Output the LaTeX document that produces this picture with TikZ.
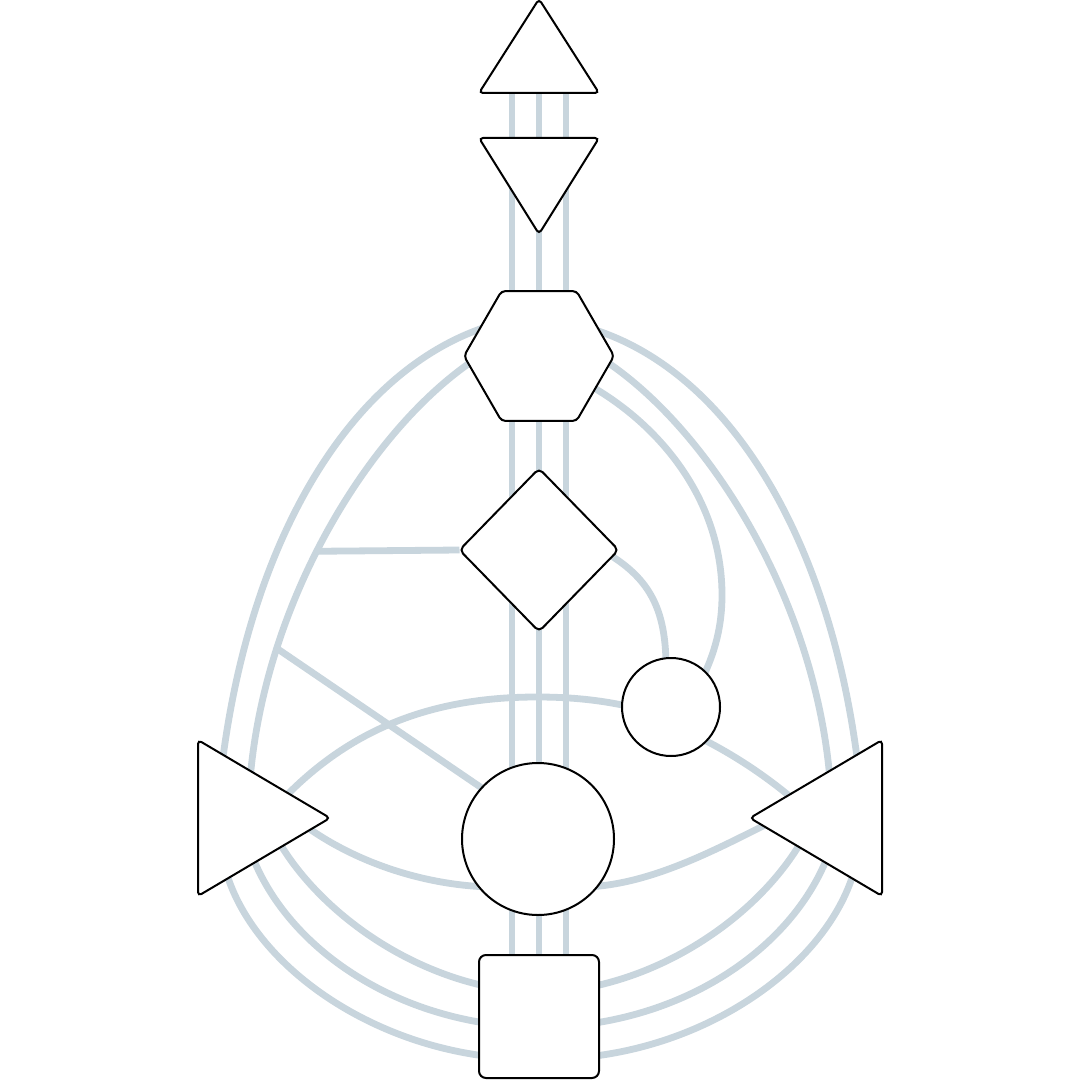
\documentclass[tikz,border=0pt]{standalone}
\usetikzlibrary{shapes.geometric,calc,backgrounds}
\definecolor{chan}{RGB}{200,213,221}
\begin{document}
\begin{tikzpicture}[x=0.5pt,y=-0.5pt,
    hub/.style={draw, fill=white, line width=1pt, inner sep=0pt, outer sep=0pt},
    tri/.style={hub, isosceles triangle, isosceles triangle stretches, rounded corners=2pt, anchor=lower side},
    channel/.style={draw=chan, line width=3.4pt}]
  \useasboundingbox (0,0) rectangle (1080,1080);
  \node[tri, shape border rotate=90, minimum width=60pt, minimum height=47pt] (head) at (539,93) {};
  \node[tri, shape border rotate=270, minimum width=60pt, minimum height=48pt] (ajna) at (539,138) {};
  \node[hub, regular polygon, regular polygon sides=6, minimum size=75pt, rounded corners=2pt] (throat) at (539,356) {};
  \node[hub, diamond, minimum width=79.5pt, minimum height=81.5pt, rounded corners=2.5pt] (g) at (539,550) {};
  \node[hub, circle, minimum size=49pt] (heart) at (671,707) {};
  \node[hub, circle, minimum size=76pt] (sacral) at (538,839) {};
  \node[tri, shape border rotate=0, minimum width=78pt, minimum height=66pt] (spleen) at (198,818) {};
  \node[tri, shape border rotate=180, minimum width=78pt, minimum height=66pt] (solar) at (882,818) {};
  \node[hub, rectangle, minimum width=60pt, minimum height=61.5pt, rounded corners=3.5pt] (root) at (539,1016.5) {};
  \begin{pgfonlayer}{background}
    \fill[white] (0,0) rectangle (1080,1080);
    \foreach \dx in {-27,0,27}
      \draw[channel] ($(head.lower side)+(\dx,0)$) -- ($(root)+(\dx,0)$); % spine
    % throat to spleen
    \draw[channel] ($(throat)+(-50,-30)$) .. controls (350,370) and (250,540) .. ($(spleen.lower side)+(24,-53)$);
    \draw[channel] ($(throat)+(-65,4)$) .. controls (370,430) and (265,600) .. ($(spleen.lower side)+(52,-38)$)
      coordinate[pos=0.55] (j1) coordinate[pos=0.75] (j2);
    \draw[channel] (g.west) -- (j1);
    \draw[channel] (j2) -- ($(sacral)+(-43,-42)$);
    % throat to solar plexus and heart
    \draw[channel] ($(throat)+(50,-28)$) .. controls (730,370) and (830,540) .. ($(solar.lower side)+(-24,-53)$);
    \draw[channel] ($(throat)+(65,4)$) .. controls (710,430) and (815,600) .. ($(solar.lower side)+(-52,-38)$);
    \draw[channel] ($(throat)+(50,29)$) .. controls (660,425) and (722,500) .. (722,595)
      .. controls (722,632) and (712,660) .. ($(heart)+(28,-22)$);
    \draw[channel] ($(g)+(71,5)$) .. controls (650,580) and (666,610) .. ($(heart)+(-5,-40)$);
    % upper arc
    \draw[channel] ($(spleen.lower side)+(86,-20)$) .. controls (350,730) and (430,697) .. (537,697)
      .. controls (585,697) and (625,703) .. ($(heart)+(0,11)$);
    \draw[channel] ($(heart)+(19,26)$) .. controls (720,747) and (760,770) .. ($(solar.lower side)+(-82,-13)$);
    % lower arc
    \draw[channel] ($(spleen.lower side)+(102,4)$) .. controls (350,860) and (420,885) .. ($(sacral)+(-48,48)$);
    \draw[channel] ($(sacral)+(47,48)$) .. controls (650,885) and (715,850) .. ($(solar.lower side)+(-107,2)$);
    % to root
    \draw[channel] ($(spleen.lower side)+(27,50)$) .. controls (250,960) and (360,1040) .. ($(root)+(-54,39.5)$);
    \draw[channel] ($(spleen.lower side)+(52,32)$) .. controls (280,935) and (370,1005) .. ($(root)+(-54,6.5)$);
    \draw[channel] ($(spleen.lower side)+(77,17)$) .. controls (310,900) and (390,965) .. ($(root)+(-54,-30.5)$);
    \draw[channel] ($(solar.lower side)+(-27,50)$) .. controls (830,960) and (720,1040) .. ($(root)+(56,39.5)$);
    \draw[channel] ($(solar.lower side)+(-52,32)$) .. controls (800,935) and (710,1005) .. ($(root)+(56,6.5)$);
    \draw[channel] ($(solar.lower side)+(-77,17)$) .. controls (770,900) and (690,965) .. ($(root)+(56,-30.5)$);
  \end{pgfonlayer}
\end{tikzpicture}
\end{document}
